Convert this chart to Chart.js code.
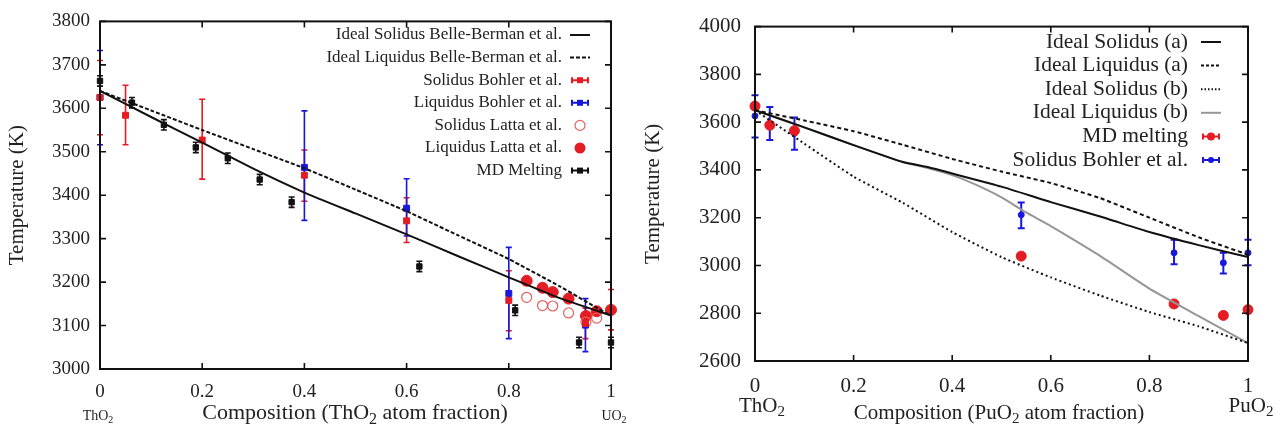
<!DOCTYPE html>
<html>
<head>
<meta charset="utf-8">
<script src="https://cdn.jsdelivr.net/npm/chart.js@4.4.0/dist/chart.umd.min.js"></script>
<style>
html, body { margin: 0; padding: 0; background: #fff; }
#wrap { position: relative; width: 1280px; height: 427px; overflow: hidden; }
#leftBox { position: absolute; left: 0; top: 0; width: 630px; height: 427px; }
#rightBox { position: absolute; left: 630px; top: 0; width: 650px; height: 427px; }
</style>
</head>
<body>
<div id="wrap">
    <div id="leftBox"><canvas id="thuChart" width="630" height="427"></canvas></div>
    <div id="rightBox"><canvas id="thpuChart" width="650" height="427"></canvas></div>
</div>
<script>
// ---- left panel: ThO2 - UO2 ----
const bbGridX = [0, 0.1, 0.2, 0.3, 0.4, 0.5, 0.6, 0.7, 0.8, 0.9, 1];
const bbSolidusT = [3640, 3580, 3521, 3461, 3406, 3358, 3310, 3260, 3211, 3163, 3123];
const bbLiquidusT = [3640, 3595, 3550, 3506, 3462, 3413, 3363, 3308, 3253, 3190, 3122];

const bohlerSolX = [0, 0.05, 0.2, 0.4, 0.6, 0.8, 0.95, 1];
const bohlerSolT = [3625, 3584, 3527, 3446, 3341, 3158, 3105, 3135];
const bohlerSolLo = [3539, 3516, 3437, 3386, 3291, 3088, 3070, 3090];
const bohlerSolHi = [3710, 3653, 3621, 3504, 3394, 3226, 3140, 3183];

const bohlerLiqX = [0, 0.4, 0.6, 0.8, 0.95];
const bohlerLiqT = [3625, 3464, 3370, 3174, 3101];
const bohlerLiqLo = [3516, 3342, 3306, 3070, 3040];
const bohlerLiqHi = [3733, 3594, 3438, 3280, 3162];

const lattaSolX = [0.835, 0.866, 0.886, 0.917, 0.951, 0.972];
const lattaSolT = [3165, 3146, 3145, 3129, 3108, 3117];
const lattaLiqX = [0.835, 0.866, 0.886, 0.917, 0.951, 0.972, 1];
const lattaLiqT = [3203, 3187, 3177, 3162, 3122, 3133, 3136];

const mdThuX = [0, 0.0625, 0.125, 0.1875, 0.25, 0.3125, 0.375, 0.625, 0.8125, 0.9375, 1];
const mdThuT = [3663, 3613, 3562, 3510, 3485, 3436, 3384, 3236, 3135, 3061, 3061];
const mdThuErr = [12, 12, 12, 12, 12, 12, 12, 12, 12, 12, 12];

const leftTicksY = [3000, 3100, 3200, 3300, 3400, 3500, 3600, 3700, 3800];

// ---- right panel: ThO2 - PuO2 ----
const solidusAX = [0, 0.1, 0.2, 0.3, 0.35, 0.4, 0.5, 0.6, 0.7, 0.8, 0.9, 1];
const solidusAT = [3650, 3578, 3504, 3433, 3412, 3385, 3330, 3265, 3205, 3140, 3085, 3035];
const liquidusAX = [0, 0.1, 0.2, 0.3, 0.4, 0.5, 0.6, 0.7, 0.8, 0.9, 1];
const liquidusAT = [3650, 3607, 3562, 3505, 3446, 3393, 3345, 3282, 3200, 3118, 3045];
const solidusBX = [0, 0.05, 0.1, 0.2, 0.3, 0.4, 0.5, 0.6, 0.7, 0.8, 0.9, 1];
const solidusBT = [3650, 3580, 3510, 3372, 3262, 3140, 3035, 2950, 2874, 2805, 2745, 2675];
const liquidusBX = [0, 0.1, 0.2, 0.3, 0.35, 0.4, 0.45, 0.5, 0.55, 0.6, 0.7, 0.8, 0.9, 1];
const liquidusBT = [3650, 3578, 3504, 3433, 3408, 3378, 3336, 3285, 3222, 3165, 3040, 2903, 2788, 2675];

const mdThpuX = [0, 0.03, 0.08, 0.54, 0.85, 0.95, 1];
const mdThpuT = [3667, 3587, 3564, 3039, 2839, 2791, 2815];
const mdThpuErr = [6, 6, 6, 6, 6, 6, 6];

const bohlerPuX = [0, 0.03, 0.08, 0.54, 0.85, 0.95, 1];
const bohlerPuT = [3626, 3591, 3553, 3212, 3053, 3011, 3053];
const bohlerPuLo = [3536, 3525, 3484, 3156, 3005, 2966, 3001];
const bohlerPuHi = [3713, 3663, 3619, 3264, 3108, 3053, 3108];

const rightTicksY = [2600, 2800, 3000, 3200, 3400, 3600, 3800, 4000];
const compTicksX = [0, 0.2, 0.4, 0.6, 0.8, 1];

const SERIF = '"Liberation Serif", "Times New Roman", serif';
const RED = 'rgb(228, 28, 36)';
const BLUE = 'rgb(24, 24, 220)';
const PINK = 'rgb(226, 96, 96)';
const GRAY = 'rgb(150, 150, 150)';

function pts(xs, ys) {
    return xs.map((x, i) => ({ x: x, y: ys[i] }));
}

function lineSet(label, xs, ys, color, dash) {
    return {
        type: 'line', label, data: pts(xs, ys),
        borderColor: color, borderWidth: 2, borderDash: dash || [],
        pointRadius: 0, fill: false, tension: 0.15
    };
}

function pointSet(label, xs, ys, style, radius, color, filled) {
    return {
        type: 'scatter', label, data: pts(xs, ys), showLine: false, clip: false,
        pointStyle: style, pointRadius: radius, pointHoverRadius: radius,
        borderColor: color, borderWidth: filled ? 1 : 1.2,
        backgroundColor: filled ? color : 'rgba(0,0,0,0)'
    };
}

function drawErrorBars(chart, xs, lo, hi, color, cap, width) {
    const ctx = chart.ctx, xS = chart.scales.x, yS = chart.scales.y;
    ctx.save();
    ctx.strokeStyle = color;
    ctx.lineWidth = width;
    xs.forEach((x, i) => {
        const px = xS.getPixelForValue(x);
        const y1 = yS.getPixelForValue(lo[i]);
        const y2 = yS.getPixelForValue(hi[i]);
        ctx.beginPath();
        ctx.moveTo(px, y1); ctx.lineTo(px, y2);
        ctx.moveTo(px - cap, y1); ctx.lineTo(px + cap, y1);
        ctx.moveTo(px - cap, y2); ctx.lineTo(px + cap, y2);
        ctx.stroke();
    });
    ctx.restore();
}

function drawFrame(chart, len) {
    const { ctx, chartArea: a, scales } = chart;
    ctx.save();
    ctx.strokeStyle = '#111';
    ctx.lineWidth = 2;
    ctx.strokeRect(a.left, a.top, a.right - a.left, a.bottom - a.top);
    ctx.lineWidth = 1.6;
    ctx.beginPath();
    scales.x.ticks.forEach(t => {
        const px = scales.x.getPixelForValue(t.value);
        ctx.moveTo(px, a.bottom); ctx.lineTo(px, a.bottom - len);
        ctx.moveTo(px, a.top); ctx.lineTo(px, a.top + len);
    });
    scales.y.ticks.forEach(t => {
        const py = scales.y.getPixelForValue(t.value);
        ctx.moveTo(a.left, py); ctx.lineTo(a.left + len, py);
        ctx.moveTo(a.right, py); ctx.lineTo(a.right - len, py);
    });
    ctx.stroke();
    ctx.restore();
}

// text with a subscript part: parts = [[text, isSub], ...]
function drawSubText(ctx, cx, cy, parts, size) {
    const subSize = Math.round(size * 0.72);
    let total = 0;
    parts.forEach(p => {
        ctx.font = (p[1] ? subSize : size) + 'px ' + SERIF;
        total += ctx.measureText(p[0]).width;
    });
    let x = cx - total / 2;
    ctx.textAlign = 'left';
    ctx.textBaseline = 'middle';
    ctx.fillStyle = '#222';
    parts.forEach(p => {
        ctx.font = (p[1] ? subSize : size) + 'px ' + SERIF;
        ctx.fillText(p[0], x, p[1] ? cy + size * 0.3 : cy);
        x += ctx.measureText(p[0]).width;
    });
}

function drawLegend(chart, items, textRight, sampleX, y0, step, size) {
    const ctx = chart.ctx;
    ctx.save();
    items.forEach((it, i) => {
        const y = y0 + i * step;
        ctx.font = size + 'px ' + SERIF;
        ctx.fillStyle = '#222';
        ctx.textAlign = 'right';
        ctx.textBaseline = 'middle';
        ctx.fillText(it.label, textRight, y);
        const x1 = sampleX - 10, x2 = sampleX + 10;
        ctx.strokeStyle = it.color;
        ctx.fillStyle = it.color;
        if (it.kind === 'line') {
            ctx.lineWidth = 2;
            ctx.setLineDash(it.dash || []);
            ctx.beginPath(); ctx.moveTo(x1, y); ctx.lineTo(x2, y); ctx.stroke();
            ctx.setLineDash([]);
        } else if (it.kind === 'err') {
            ctx.lineWidth = 2;
            ctx.beginPath();
            ctx.moveTo(x1 + 2, y); ctx.lineTo(x2 - 2, y);
            ctx.moveTo(x1 + 2, y - 3); ctx.lineTo(x1 + 2, y + 3);
            ctx.moveTo(x2 - 2, y - 3); ctx.lineTo(x2 - 2, y + 3);
            ctx.stroke();
            ctx.beginPath();
            if (it.marker === 'rect') ctx.rect(sampleX - 3, y - 3, 6, 6);
            else ctx.arc(sampleX, y, it.r || 3, 0, Math.PI * 2);
            ctx.fill();
        } else if (it.kind === 'open') {
            ctx.lineWidth = 1.2;
            ctx.beginPath(); ctx.arc(sampleX, y, 5, 0, Math.PI * 2); ctx.stroke();
        } else if (it.kind === 'dot') {
            ctx.beginPath(); ctx.arc(sampleX, y, 5.5, 0, Math.PI * 2); ctx.fill();
        }
    });
    ctx.restore();
}

function tickText(value) {
    return String(Number(Number(value).toFixed(2)));
}

// ---------------- left chart ----------------
const leftPlugin = {
    id: 'leftDeco',
    beforeDatasetsDraw(chart) {
        drawErrorBars(chart, bohlerSolX, bohlerSolLo, bohlerSolHi, RED, 3, 1.6);
        drawErrorBars(chart, bohlerLiqX, bohlerLiqLo, bohlerLiqHi, BLUE, 3, 1.6);
        drawErrorBars(chart, mdThuX,
            mdThuT.map((t, i) => t - mdThuErr[i]),
            mdThuT.map((t, i) => t + mdThuErr[i]), '#111', 3, 1.6);
    },
    afterDraw(chart) {
        drawFrame(chart, 6);
        const ctx = chart.ctx;
        ctx.save();
        drawSubText(ctx, 355, 413, [['Composition (ThO', false], ['2', true], [' atom fraction)', false]], 22);
        drawSubText(ctx, 98, 416, [['ThO', false], ['2', true]], 14);
        drawSubText(ctx, 614, 416, [['UO', false], ['2', true]], 14);
        ctx.restore();
        drawLegend(chart, [
            { label: 'Ideal Solidus Belle-Berman et al.', kind: 'line', color: '#111' },
            { label: 'Ideal Liquidus Belle-Berman et al.', kind: 'line', color: '#111', dash: [4, 2] },
            { label: 'Solidus Bohler et al.', kind: 'err', color: RED, marker: 'rect' },
            { label: 'Liquidus Bohler et al.', kind: 'err', color: BLUE, marker: 'rect' },
            { label: 'Solidus Latta et al.', kind: 'open', color: PINK },
            { label: 'Liquidus Latta et al.', kind: 'dot', color: RED },
            { label: 'MD Melting', kind: 'err', color: '#111', marker: 'rect' }
        ], 562, 580, 35, 22.6, 17);
    }
};

new Chart(document.getElementById('thuChart'), {
    data: {
        datasets: [
            lineSet('Ideal Solidus Belle-Berman et al.', bbGridX, bbSolidusT, '#111'),
            lineSet('Ideal Liquidus Belle-Berman et al.', bbGridX, bbLiquidusT, '#111', [4, 2]),
            pointSet('Solidus Bohler et al.', bohlerSolX, bohlerSolT, 'rect', 4.2, RED, true),
            pointSet('Liquidus Bohler et al.', bohlerLiqX, bohlerLiqT, 'rect', 4.2, BLUE, true),
            pointSet('Solidus Latta et al.', lattaSolX, lattaSolT, 'circle', 5, PINK, false),
            pointSet('Liquidus Latta et al.', lattaLiqX, lattaLiqT, 'circle', 5.5, RED, true),
            pointSet('MD Melting', mdThuX, mdThuT, 'rect', 3.8, '#111', true)
        ]
    },
    options: {
        responsive: false,
        animation: false,
        layout: { padding: { top: 19, right: 19, bottom: 0, left: 0 } },
        plugins: { legend: { display: false }, tooltip: { enabled: false } },
        scales: {
            x: {
                type: 'linear', min: 0, max: 1,
                afterBuildTicks: s => { s.ticks = compTicksX.map(v => ({ value: v })); },
                afterFit: s => { s.height = 58; },
                grid: { display: false, drawTicks: false }, border: { display: false },
                ticks: { padding: 12, color: '#222', font: { family: SERIF, size: 19 }, callback: tickText }
            },
            y: {
                type: 'linear', min: 3000, max: 3800,
                afterBuildTicks: s => { s.ticks = leftTicksY.map(v => ({ value: v })); },
                afterFit: s => { s.width = 100; },
                grid: { display: false, drawTicks: false }, border: { display: false },
                title: { display: true, text: 'Temperature (K)', color: '#222', font: { family: SERIF, size: 21 }, padding: { top: 5, bottom: 0 } },
                ticks: { padding: 10, color: '#222', font: { family: SERIF, size: 19 }, callback: v => String(v) }
            }
        }
    },
    plugins: [leftPlugin]
});

// ---------------- right chart ----------------
const rightPlugin = {
    id: 'rightDeco',
    beforeDatasetsDraw(chart) {
        drawErrorBars(chart, mdThpuX,
            mdThpuT.map((t, i) => t - mdThpuErr[i]),
            mdThpuT.map((t, i) => t + mdThpuErr[i]), RED, 3, 1.6);
        drawErrorBars(chart, bohlerPuX, bohlerPuLo, bohlerPuHi, BLUE, 3.5, 2);
    },
    afterDraw(chart) {
        drawFrame(chart, 6);
        const ctx = chart.ctx;
        ctx.save();
        drawSubText(ctx, 369, 413, [['Composition (PuO', false], ['2', true], [' atom fraction)', false]], 21);
        drawSubText(ctx, 132, 406, [['ThO', false], ['2', true]], 21);
        drawSubText(ctx, 621, 406, [['PuO', false], ['2', true]], 21);
        ctx.restore();
        drawLegend(chart, [
            { label: 'Ideal Solidus (a)', kind: 'line', color: '#111' },
            { label: 'Ideal Liquidus (a)', kind: 'line', color: '#111', dash: [3, 2] },
            { label: 'Ideal Solidus (b)', kind: 'line', color: '#111', dash: [1.5, 2] },
            { label: 'Ideal Liquidus (b)', kind: 'line', color: GRAY },
            { label: 'MD melting', kind: 'err', color: RED, marker: 'circle', r: 4 },
            { label: 'Solidus Bohler et al.', kind: 'err', color: BLUE, marker: 'circle', r: 3 }
        ], 558, 581, 42, 23.6, 21.5);
    }
};

new Chart(document.getElementById('thpuChart'), {
    data: {
        datasets: [
            lineSet('Ideal Solidus (a)', solidusAX, solidusAT, '#111'),
            lineSet('Ideal Liquidus (a)', liquidusAX, liquidusAT, '#111', [4, 3]),
            lineSet('Ideal Solidus (b)', solidusBX, solidusBT, '#111', [2, 3]),
            lineSet('Ideal Liquidus (b)', liquidusBX, liquidusBT, GRAY),
            pointSet('MD melting', mdThpuX, mdThpuT, 'circle', 5, RED, true),
            pointSet('Solidus Bohler et al.', bohlerPuX, bohlerPuT, 'circle', 3, BLUE, true)
        ]
    },
    options: {
        responsive: false,
        animation: false,
        layout: { padding: { top: 23, right: 32, bottom: 0, left: 0 } },
        plugins: { legend: { display: false }, tooltip: { enabled: false } },
        scales: {
            x: {
                type: 'linear', min: 0, max: 1,
                afterBuildTicks: s => { s.ticks = compTicksX.map(v => ({ value: v })); },
                afterFit: s => { s.height = 66; },
                grid: { display: false, drawTicks: false }, border: { display: false },
                ticks: { padding: 13, color: '#222', font: { family: SERIF, size: 21 }, callback: tickText }
            },
            y: {
                type: 'linear', min: 2600, max: 4000,
                afterBuildTicks: s => { s.ticks = rightTicksY.map(v => ({ value: v })); },
                afterFit: s => { s.width = 125; },
                grid: { display: false, drawTicks: false }, border: { display: false },
                title: { display: true, text: 'Temperature (K)', color: '#222', font: { family: SERIF, size: 21 }, padding: { top: 11, bottom: 0 } },
                ticks: { padding: 14, color: '#222', font: { family: SERIF, size: 21 }, callback: v => String(v) }
            }
        }
    },
    plugins: [rightPlugin]
});
</script>
</body>
</html>
